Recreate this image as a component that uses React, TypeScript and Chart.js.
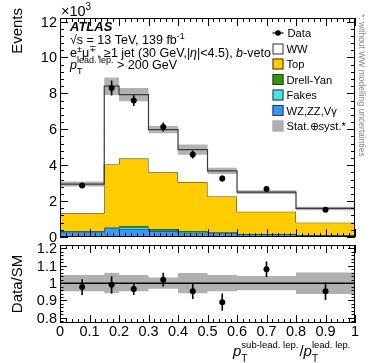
import React, { useEffect, useRef } from "react";
import { Chart, registerables } from "chart.js";
Chart.register(...registerables);

const W = 374;
const H = 363;
const F = '"Liberation Sans", Arial, Helvetica, sans-serif';

// ---- data (Events, x10^3) ----
const binEdges = [0, 0.15, 0.2, 0.3, 0.4, 0.5, 0.6, 0.8, 1.0];
const binCenters = [0.075, 0.175, 0.25, 0.35, 0.45, 0.55, 0.7, 0.9];
const wzZZVg = [0.25, 0.48, 0.43, 0.33, 0.2, 0.2, 0.15, 0.1];
const fakes = [0.05, 0.03, 0.09, 0.04, 0.07, 0.03, 0.01, 0.005];
const drellYan = [0.03, 0.02, 0.09, 0.07, 0.06, 0.03, 0.01, 0.005];
const topQuark = [0.99, 3.51, 3.76, 3.17, 2.73, 2.0, 1.24, 0.69];
const wwSignal = [1.63, 4.36, 3.56, 2.37, 1.81, 1.42, 1.09, 0.79];
const dataVals = [2.87, 8.3, 7.6, 6.13, 4.6, 3.26, 2.68, 1.52];
const dataErr = [0.14, 0.42, 0.3, 0.25, 0.22, 0.17, 0.12, 0.08];
const sysRel = [0.047, 0.058, 0.047, 0.033, 0.058, 0.047, 0.041, 0.062];
const ratioVals = [0.977, 0.99, 0.966, 1.02, 0.953, 0.89, 1.08, 0.953];
const ratioErr = [0.046, 0.05, 0.035, 0.04, 0.045, 0.05, 0.045, 0.05];
const xTickLabels = ["0", "0.1", "0.2", "0.3", "0.4", "0.5", "0.6", "0.7", "0.8", "0.9", "1"];
const yTicksTop = [0, 2, 4, 6, 8, 10, 12];
const yTicksRatio = [0.8, 0.9, 1, 1.1, 1.2];

const TOP_MIN = 0, TOP_MAX = 12.2;
const R_MIN = 0.77, R_MAX = 1.22;

function cumulate(arrs: number[][]): number[][] {
  const out: number[][] = [];
  let acc = arrs[0].map(() => 0);
  for (const a of arrs) {
    acc = acc.map((v, i) => v + a[i]);
    out.push(acc);
  }
  return out;
}
function step(vals: number[]) {
  return binEdges.map((x, i) => ({ x, y: vals[Math.min(i, vals.length - 1)] }));
}

type Run = { t: string; size: number; italic?: boolean; bold?: boolean; dy?: number; noAdv?: boolean; dx?: number };
function font(size: number, italic?: boolean, bold?: boolean) {
  return `${italic ? "italic " : ""}${bold ? "bold " : ""}${size}px ${F}`;
}
function drawRuns(ctx: CanvasRenderingContext2D, x: number, y: number, runs: Run[]) {
  for (const r of runs) {
    ctx.font = font(r.size, r.italic, r.bold);
    ctx.fillText(r.t, x + (r.dx || 0), y + (r.dy || 0));
    if (!r.noAdv) x += ctx.measureText(r.t).width + (r.dx || 0);
  }
  return x;
}

function drawFrameAndTicks(chart: any, yStep: number, yMajorEvery: number, majorX: number, minorX: number, majorY: number, minorY: number) {
  const ctx: CanvasRenderingContext2D = chart.ctx;
  const a = chart.chartArea;
  const xs = chart.scales.x;
  const ys = chart.scales.y;
  ctx.save();
  ctx.strokeStyle = "#000";
  ctx.lineWidth = 1;
  ctx.beginPath();
  for (let k = 0; k <= 50; k++) {
    const v = k * 0.02;
    const px = Math.round(xs.getPixelForValue(v)) + 0.5;
    const len = k % 5 === 0 ? majorX : minorX;
    ctx.moveTo(px, a.bottom);
    ctx.lineTo(px, a.bottom - len);
    ctx.moveTo(px, a.top);
    ctx.lineTo(px, a.top + len);
  }
  const kmin = Math.ceil(ys.min / yStep - 1e-6);
  const kmax = Math.floor(ys.max / yStep + 1e-6);
  for (let k = kmin; k <= kmax; k++) {
    const v = k * yStep;
    const py = Math.round(ys.getPixelForValue(v)) + 0.5;
    const len = k % yMajorEvery === 0 ? majorY : minorY;
    ctx.moveTo(a.left, py);
    ctx.lineTo(a.left + len, py);
    ctx.moveTo(a.right, py);
    ctx.lineTo(a.right - len, py);
  }
  ctx.stroke();
  ctx.strokeRect(Math.round(a.left) + 0.5, Math.round(a.top) + 0.5, Math.round(a.right - a.left) - 1, Math.round(a.bottom - a.top) - 1);
  ctx.restore();
}

function drawErrorBars(chart: any, vals: number[], errs: number[]) {
  const ctx: CanvasRenderingContext2D = chart.ctx;
  const xs = chart.scales.x;
  const ys = chart.scales.y;
  ctx.save();
  ctx.strokeStyle = "#000";
  ctx.lineWidth = 1.6;
  ctx.beginPath();
  binCenters.forEach((c, i) => {
    const px = xs.getPixelForValue(c);
    ctx.moveTo(px, ys.getPixelForValue(vals[i] - errs[i]));
    ctx.lineTo(px, ys.getPixelForValue(vals[i] + errs[i]));
  });
  ctx.stroke();
  ctx.restore();
}

const lineBase = { type: "line" as const, stepped: true, pointRadius: 0, tension: 0 };

export default function App() {
  const topRef = useRef<HTMLCanvasElement>(null);
  const botRef = useRef<HTMLCanvasElement>(null);

  useEffect(() => {
    const [c0, c1, c2, c3, c4] = cumulate([wzZZVg, fakes, drellYan, topQuark, wwSignal]);
    const lo = c4.map((v, i) => v * (1 - sysRel[i]));
    const hi = c4.map((v, i) => v * (1 + sysRel[i]));

    const topPlugin = {
      id: "topDecor",
      afterDatasetsDraw(chart: any) {
        drawErrorBars(chart, dataVals, dataErr);
      },
      afterDraw(chart: any) {
        const ctx: CanvasRenderingContext2D = chart.ctx;
        const ys = chart.scales.y;
        drawFrameAndTicks(chart, 0.4, 5, 8, 4, 8, 4);
        ctx.save();
        ctx.fillStyle = "#000";
        ctx.font = font(14.5);
        ctx.textAlign = "right";
        ctx.textBaseline = "middle";
        yTicksTop.forEach((v) => ctx.fillText(String(v), 57, ys.getPixelForValue(v) + 1));
        ctx.textAlign = "left";
        ctx.textBaseline = "alphabetic";
        drawRuns(ctx, 61, 16, [
          { t: "×10", size: 14.5 },
          { t: "3", size: 10, dy: -6 },
        ]);
        ctx.save();
        ctx.translate(22, 8);
        ctx.rotate(-Math.PI / 2);
        ctx.font = font(15);
        ctx.textAlign = "right";
        ctx.textBaseline = "alphabetic";
        ctx.fillText("Events", 0, 0);
        ctx.restore();
        ctx.textAlign = "left";
        drawRuns(ctx, 70, 31, [{ t: "ATLAS", size: 13, italic: true, bold: true }]);
        drawRuns(ctx, 70, 44, [
          { t: "√s = 13 TeV, 139 fb", size: 12.5 },
          { t: "-1", size: 9, dy: -5 },
        ]);
        drawRuns(ctx, 70, 57, [
          { t: "e", size: 12.5 },
          { t: "±", size: 9, dy: -5 },
          { t: "μ", size: 12.5 },
          { t: "∓", size: 9, dy: -5 },
          { t: ", ≥1 jet (30 GeV,|", size: 12.5 },
          { t: "η", size: 12.5, italic: true },
          { t: "|<4.5), ", size: 12.5 },
          { t: "b", size: 12.5, italic: true },
          { t: "-veto", size: 12.5 },
        ]);
        drawRuns(ctx, 70, 69, [
          { t: "p", size: 12.5, italic: true },
          { t: "T", size: 9, dy: 5, noAdv: true },
          { t: "lead. lep.", size: 9, dy: -6 },
          { t: " > 200 GeV", size: 12.5 },
        ]);
        // legend
        const lx = 272.5, bw = 11, bh = 11, tx = 286.5;
        const rows = [33, 49, 64, 79.5, 95, 110.5, 126];
        ctx.font = font(11.2);
        ctx.textBaseline = "middle";
        ctx.strokeStyle = "#000";
        ctx.lineWidth = 1.2;
        ctx.beginPath();
        ctx.moveTo(lx, rows[0]);
        ctx.lineTo(lx + bw, rows[0]);
        ctx.stroke();
        ctx.beginPath();
        ctx.arc(lx + bw / 2, rows[0], 2.8, 0, Math.PI * 2);
        ctx.fill();
        ctx.fillText("Data", tx + 1, rows[0] + 1);
        const boxes: [string, string, string][] = [
          ["WW", "#ffffff", "#333"],
          ["Top", "#ffcc00", "#333"],
          ["Drell-Yan", "#339900", "#333"],
          ["Fakes", "#44e4ea", "#333"],
          ["WZ,ZZ,Vγ", "#3399ff", "#333"],
          ["Stat.⊕syst.*", "#b0b0b0", "#b0b0b0"],
        ];
        boxes.forEach(([label, fill, stroke], i) => {
          const y = rows[i + 1];
          ctx.fillStyle = fill;
          ctx.fillRect(lx, y - bh / 2, bw, bh);
          ctx.strokeStyle = stroke;
          ctx.lineWidth = 1;
          ctx.strokeRect(lx + 0.5, y - bh / 2 + 0.5, bw - 1, bh - 1);
          ctx.fillStyle = "#000";
          ctx.fillText(label, tx, y + 1);
        });
        ctx.save();
        ctx.translate(361, 14);
        ctx.rotate(Math.PI / 2);
        ctx.font = font(8.5);
        ctx.fillStyle = "#8a8a8a";
        ctx.textAlign = "left";
        ctx.textBaseline = "middle";
        ctx.fillText("*: without WW modelling uncertainties", 0, 0);
        ctx.restore();
        ctx.restore();
      },
    };

    const top = new Chart(topRef.current!, {
      type: "line",
      data: {
        datasets: [
          { ...lineBase, data: step(c0), borderColor: "#1c2a4a", borderWidth: 1, backgroundColor: "#3399ff", fill: "origin", order: 9 },
          { ...lineBase, data: step(c1), borderColor: "#2a5a5a", borderWidth: 0.8, backgroundColor: "#44e4ea", fill: 0, order: 8 },
          { ...lineBase, data: step(c2), borderColor: "#1f3a10", borderWidth: 0.8, backgroundColor: "#339900", fill: 1, order: 7 },
          { ...lineBase, data: step(c3), borderColor: "#333", borderWidth: 1, backgroundColor: "#ffcc00", fill: 2, order: 6 },
          { ...lineBase, data: step(c4), borderWidth: 0, backgroundColor: "#ffffff", fill: 3, order: 5 },
          { ...lineBase, data: step(lo), borderWidth: 0, fill: false, order: 4 },
          { ...lineBase, data: step(hi), borderWidth: 0, backgroundColor: "rgba(160,160,160,0.8)", fill: 5, order: 3 },
          { ...lineBase, data: step(c4), borderColor: "#3a3a3a", borderWidth: 1.2, fill: false, order: 2 },
          {
            type: "line",
            showLine: false,
            data: binCenters.map((x, i) => ({ x, y: dataVals[i] })),
            pointRadius: 3,
            pointBackgroundColor: "#000",
            pointBorderWidth: 0,
            order: 1,
          },
        ] as any,
      },
      options: {
        animation: false,
        responsive: false,
        events: [],
        layout: { padding: { left: 60, right: 19, top: 18, bottom: 126 } },
        plugins: { legend: { display: false }, tooltip: { enabled: false } },
        scales: {
          x: { type: "linear", min: 0, max: 1, display: false },
          y: { type: "linear", min: TOP_MIN, max: TOP_MAX, display: false },
        },
      },
      plugins: [topPlugin],
    });

    const rlo = sysRel.map((r) => 1 - r);
    const rhi = sysRel.map((r) => 1 + r);
    const botPlugin = {
      id: "botDecor",
      afterDatasetsDraw(chart: any) {
        drawErrorBars(chart, ratioVals, ratioErr);
      },
      afterDraw(chart: any) {
        const ctx: CanvasRenderingContext2D = chart.ctx;
        const xs = chart.scales.x;
        const ys = chart.scales.y;
        drawFrameAndTicks(chart, 0.02, 5, 8, 4, 7, 3.5);
        ctx.save();
        ctx.fillStyle = "#000";
        ctx.font = font(14.5);
        ctx.textAlign = "right";
        ctx.textBaseline = "middle";
        yTicksRatio.forEach((v) => ctx.fillText(String(v), 57, ys.getPixelForValue(v) + 1));
        ctx.textAlign = "center";
        ctx.textBaseline = "alphabetic";
        xTickLabels.forEach((l, i) => ctx.fillText(l, xs.getPixelForValue(i / 10), 336));
        ctx.save();
        ctx.translate(22, 284);
        ctx.rotate(-Math.PI / 2);
        ctx.font = font(15);
        ctx.textAlign = "center";
        ctx.fillText("Data/SM", 0, 0);
        ctx.restore();
        ctx.textAlign = "left";
        drawRuns(ctx, 233, 356, [
          { t: "p", size: 15, italic: true },
          { t: "T", size: 10, dy: 6, noAdv: true },
          { t: "sub-lead. lep.", size: 9.5, dy: -8 },
          { t: "/", size: 15, dx: 1 },
          { t: "p", size: 15, italic: true },
          { t: "T", size: 10, dy: 6, noAdv: true },
          { t: "lead. lep.", size: 9.5, dy: -8 },
        ]);
        ctx.restore();
      },
    };

    const bot = new Chart(botRef.current!, {
      type: "line",
      data: {
        datasets: [
          { ...lineBase, data: step(rlo), borderWidth: 0, fill: false, order: 5 },
          { ...lineBase, data: step(rhi), borderWidth: 0, backgroundColor: "#b0b0b0", fill: 0, order: 4 },
          { type: "line", data: [{ x: 0, y: 1 }, { x: 1, y: 1 }], borderColor: "#000", borderWidth: 1.5, pointRadius: 0, fill: false, order: 3 },
          {
            type: "line",
            showLine: false,
            data: binCenters.map((x, i) => ({ x, y: ratioVals[i] })),
            pointRadius: 3,
            pointBackgroundColor: "#000",
            pointBorderWidth: 0,
            order: 1,
          },
        ] as any,
      },
      options: {
        animation: false,
        responsive: false,
        events: [],
        layout: { padding: { left: 60, right: 19, top: 245, bottom: 40 } },
        plugins: { legend: { display: false }, tooltip: { enabled: false } },
        scales: {
          x: { type: "linear", min: 0, max: 1, display: false },
          y: { type: "linear", min: R_MIN, max: R_MAX, display: false },
        },
      },
      plugins: [botPlugin],
    });

    return () => {
      top.destroy();
      bot.destroy();
    };
  }, []);

  return (
    <div style={{ position: "fixed", left: 0, top: 0, width: W, height: H, background: "#fff" }}>
      <canvas ref={topRef} width={W} height={H} style={{ position: "absolute", left: 0, top: 0 }} />
      <canvas ref={botRef} width={W} height={H} style={{ position: "absolute", left: 0, top: 0 }} />
    </div>
  );
}
